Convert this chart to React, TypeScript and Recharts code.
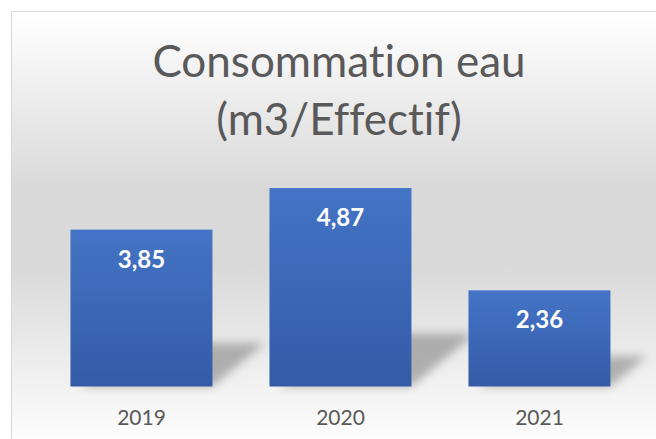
import React from "react";
import { BarChart, Bar, XAxis, YAxis, LabelList } from "recharts";

const categories = ["2019", "2020", "2021"];
const values = [3.85, 4.87, 2.36];
const titleLines = ["Consommation eau", "(m3/Effectif)"];

const data = categories.map((c, i) => ({ year: c, value: values[i] }));

const fmt = (v: number) => v.toFixed(2).replace(".", ",");

const noLig: React.CSSProperties = {
  fontVariantLigatures: "none",
  fontFeatureSettings: '"liga" 0, "clig" 0, "dlig" 0',
};

const BarShape = (props: any) => {
  const { x, y, width, height } = props;
  const bottom = y + height;
  const sh = height * 0.22 + 9;
  const dx = sh * 1.2;
  const pts = [
    [x + 10, bottom],
    [x + width, bottom],
    [x + width + dx, bottom - sh],
    [x + 10 + dx, bottom - sh],
  ]
    .map((p) => p.join(","))
    .join(" ");
  return (
    <g>
      <polygon points={pts} fill="#6f6f6f" opacity={0.5} filter="url(#shadowBlur)" />
      <rect x={x} y={y} width={width} height={height} fill="url(#barGrad)" />
    </g>
  );
};

const ValueLabel = (props: any) => {
  const { x, y, width, value } = props;
  return (
    <text
      x={x + width / 2}
      y={y + 38}
      textAnchor="middle"
      fill="#ffffff"
      fontFamily="Lato, 'Open Sans', sans-serif"
      fontWeight={700}
      fontSize={24}
    >
      {fmt(value)}
    </text>
  );
};

const XTick = (props: any) => {
  const { x, payload } = props;
  return (
    <text
      x={x}
      y={425}
      textAnchor="middle"
      fill="#595959"
      fontFamily="Lato, 'Open Sans', sans-serif"
      fontSize={21}
    >
      {payload.value}
    </text>
  );
};

export default function App() {
  return (
    <div
      style={{
        position: "absolute",
        left: 0,
        top: 0,
        width: 656,
        height: 439,
        overflow: "hidden",
        background: "#ffffff",
      }}
    >
      <svg width={0} height={0} style={{ position: "absolute" }}>
        <defs>
          <linearGradient id="barGrad" x1="0" y1="0" x2="0" y2="1">
            <stop offset="0%" stopColor="#4474c6" />
            <stop offset="100%" stopColor="#335ba7" />
          </linearGradient>
          <filter id="shadowBlur" x="-50%" y="-50%" width="200%" height="200%">
            <feGaussianBlur stdDeviation="5" />
          </filter>
        </defs>
      </svg>
      <div
        style={{
          position: "absolute",
          left: 11,
          top: 11,
          width: 660,
          height: 440,
          boxSizing: "border-box",
          border: "1px solid #d9d9d9",
          background:
            "linear-gradient(to bottom, #ffffff 0%, #d9d9d9 40%, #d9d9d9 58%, #ffffff 100%)",
        }}
      />
      <div style={{ position: "absolute", left: 0, top: 0 }}>
        <BarChart
          width={656}
          height={439}
          data={data}
          margin={{ top: 142, right: 17, bottom: 22.5, left: 42 }}
          barCategoryGap="14.3%"
        >
          <XAxis
            dataKey="year"
            axisLine={false}
            tickLine={false}
            height={30}
            tick={<XTick />}
            interval={0}
          />
          <YAxis hide domain={[0, 6]} />
          <Bar dataKey="value" shape={<BarShape />} isAnimationActive={false}>
            <LabelList dataKey="value" content={<ValueLabel />} />
          </Bar>
        </BarChart>
      </div>
      <svg
        width={656}
        height={439}
        style={{ position: "absolute", left: 0, top: 0, pointerEvents: "none", ...noLig }}
      >
        <text
          x={339}
          y={77}
          textAnchor="middle"
          fill="#595959"
          fontFamily="Lato, 'Open Sans', sans-serif"
          fontSize={44}
          style={noLig}
        >
          {titleLines[0]}
        </text>
        <text
          x={339}
          y={135}
          textAnchor="middle"
          fill="#595959"
          fontFamily="Lato, 'Open Sans', sans-serif"
          fontSize={44}
          style={noLig}
        >
          {titleLines[1]}
        </text>
      </svg>
    </div>
  );
}
